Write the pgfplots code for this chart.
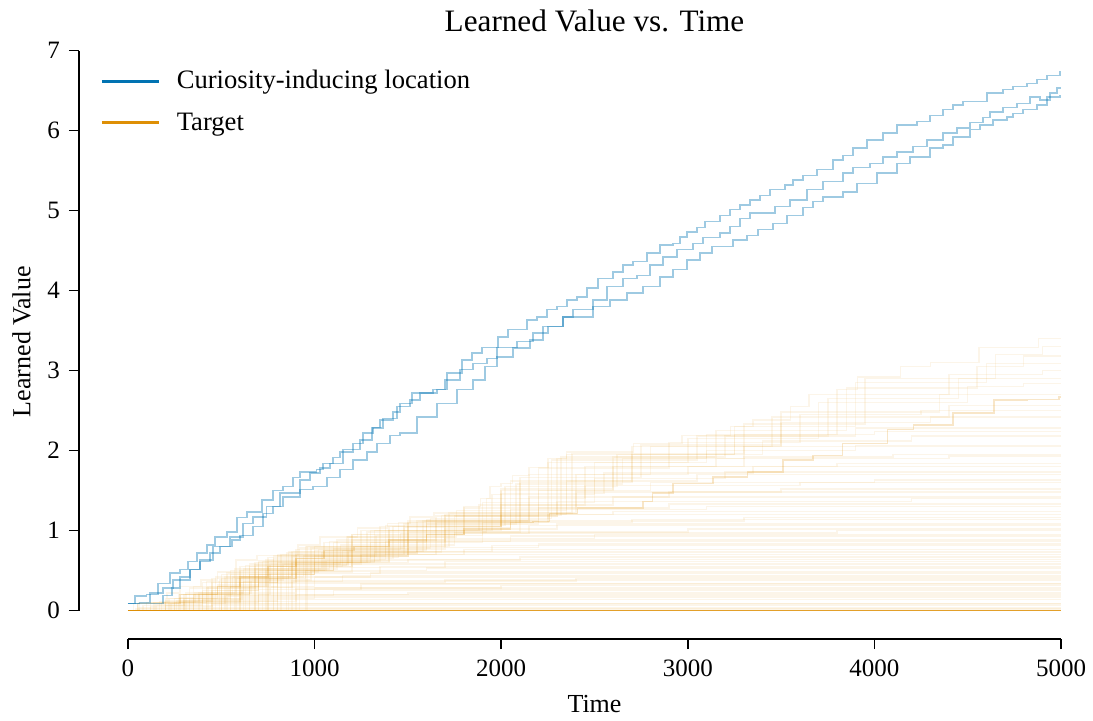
\documentclass[border=0pt]{standalone}
\usepackage{fontspec}
\setmainfont{Liberation Serif}
\usepackage{pgfplots}
\pgfplotsset{compat=1.18}
\definecolor{cblue}{HTML}{0173B2}
\definecolor{corange}{HTML}{DE8F05}
\pgfplotsset{
  oline/.style={const plot, no marks, draw=corange, opacity=0.085, line width=0.75pt, forget plot},
  bline/.style={const plot, no marks, draw=cblue, opacity=0.38, line width=0.65pt, forget plot},
}
\begin{document}
\begin{tikzpicture}
\begin{axis}[
  at={(0,0)}, anchor=origin,
  scale only axis, width=466.5pt, height=280pt,
  xmin=0, xmax=5000, ymin=0, ymax=7,
  clip=false,
  axis x line=bottom, axis y line=left,
  axis x line shift=14.25pt, axis y line shift=24.5pt,
  axis line style={-, line width=0.8pt, black},
  tick align=outside, major tick length=5pt,
  tick style={line width=0.8pt, black},
  xtick={0,1000,2000,3000,4000,5000}, ytick={0,1,2,3,4,5,6,7},
  scaled x ticks=false,
  /pgf/number format/1000 sep={},
  /pgf/number format/assume math mode=true,
  tick label style={font=\fontsize{12.5}{15}\selectfont},
  xticklabel style={yshift=-1.75pt},
  yticklabel style={xshift=-1pt},
  title={Learned Value vs. Time},
  title style={at={(axis description cs:0.5,1)}, anchor=base, yshift=3.75pt, font=\fontsize{15.6}{18}\selectfont},
  xlabel={Time},
  xlabel style={at={(axis description cs:0.5,-0.1813)}, anchor=base, font=\fontsize{13}{15}\selectfont},
  ylabel={Learned Value},
  ylabel style={at={(axis description cs:-0.1045,0.48)}, anchor=base, font=\fontsize{13}{15}\selectfont},
  legend style={draw=none, fill=none, at={(axis description cs:-0.030,0.9706)}, anchor=north west,
    font=\fontsize{13.3}{16}\selectfont, row sep=7.4pt, inner sep=0pt, nodes={inner sep=1.5pt}},
  legend cell align=left,
  legend image code/.code={\draw[#1] (0pt,0pt) -- (28.5pt,0pt); \path[draw=none] (0pt,0pt) -- (36pt,0pt);},
]
% ---------------- Target runs (faint) ----------------
\addplot[oline] coordinates {(0,0)(60,0.03)(5000,0.03)};
\addplot[oline] coordinates {(0,0)(200,0.06)(5000,0.06)};
\addplot[oline] coordinates {(0,0)(30,0.09)(260,0.09)(5000,0.09)};
\addplot[oline] coordinates {(0,0)(150,0.07)(400,0.14)(5000,0.14)};
\addplot[oline] coordinates {(0,0)(100,0.1)(350,0.18)(5000,0.18)};
\addplot[oline] coordinates {(0,0)(350,0.1)(700,0.2)(1500,0.22)(5000,0.22)};
\addplot[oline] coordinates {(0,0)(250,0.1)(600,0.22)(900,0.27)(5000,0.27)};
\addplot[oline] coordinates {(0,0)(500,0.15)(1000,0.28)(2000,0.31)(5000,0.31)};
\addplot[oline] coordinates {(0,0)(200,0.12)(450,0.25)(700,0.34)(5000,0.34)};
\addplot[oline] coordinates {(0,0)(260,0.12)(800,0.35)(1700,0.38)(5000,0.38)};
\addplot[oline] coordinates {(0,0)(120,0.1)(400,0.2)(650,0.3)(1000,0.42)(5000,0.42)};
\addplot[oline] coordinates {(0,0)(300,0.15)(550,0.3)(800,0.42)(1300,0.47)(5000,0.47)};
\addplot[oline] coordinates {(0,0)(180,0.1)(420,0.28)(700,0.4)(950,0.5)(1600,0.53)(5000,0.53)};
\addplot[oline] coordinates {(0,0)(350,0.2)(600,0.35)(900,0.48)(1200,0.58)(5000,0.58)};
\addplot[oline] coordinates {(0,0)(250,0.15)(500,0.35)(800,0.5)(1100,0.6)(1500,0.64)(5000,0.64)};
\addplot[oline] coordinates {(0,0)(400,0.25)(700,0.45)(1000,0.6)(1400,0.7)(5000,0.7)};
\addplot[oline] coordinates {(0,0)(200,0.15)(600,0.4)(900,0.6)(1250,0.7)(1800,0.76)(5000,0.76)};
\addplot[oline] coordinates {(0,0)(300,0.2)(650,0.45)(1000,0.68)(1500,0.79)(2200,0.83)(5000,0.83)};
\addplot[oline] coordinates {(0,0)(450,0.35)(800,0.55)(1150,0.75)(1600,0.88)(5000,0.88)};
\addplot[oline] coordinates {(0,0)(350,0.3)(700,0.5)(1100,0.77)(1700,0.9)(2500,0.95)(5000,0.95)};
\addplot[oline] coordinates {(0,0)(500,0.4)(900,0.65)(1300,0.85)(1900,0.98)(3000,1.02)(5000,1.02)};
\addplot[oline] coordinates {(0,0)(400,0.35)(800,0.6)(1200,0.88)(1700,1.02)(2300,1.08)(5000,1.08)};
\addplot[oline] coordinates {(0,0)(550,0.45)(1000,0.75)(1500,0.98)(2100,1.12)(3300,1.16)(5000,1.16)};
\addplot[oline] coordinates {(0,0)(450,0.4)(900,0.7)(1400,1.0)(2000,1.2)(2600,1.24)(5000,1.24)};
\addplot[oline] coordinates {(0,0)(600,0.5)(1100,0.85)(1600,1.08)(2200,1.28)(2900,1.33)(5000,1.33)};
\addplot[oline] coordinates {(0,0)(500,0.45)(1000,0.8)(1500,1.05)(2000,1.32)(2600,1.42)(5000,1.42)};
\addplot[oline] coordinates {(0,0)(650,0.55)(1200,0.95)(1800,1.22)(2400,1.48)(3500,1.52)(5000,1.52)};
\addplot[oline] coordinates {(0,0)(550,0.5)(1050,0.85)(1700,1.18)(2200,1.5)(2800,1.6)(4000,1.63)(5000,1.63)};
\addplot[oline] coordinates {(0,0)(700,0.6)(1300,1.0)(1900,1.35)(2500,1.65)(3200,1.73)(5000,1.73)};
\addplot[oline] coordinates {(0,0)(600,0.55)(1200,0.95)(1800,1.28)(2400,1.7)(3000,1.8)(3800,1.84)(5000,1.84)};
\addplot[oline] coordinates {(0,0)(750,0.62)(1400,1.05)(2000,1.5)(2600,1.8)(3300,1.92)(4100,1.95)(5000,1.95)};
\addplot[oline] coordinates {(0,0)(650,0.58)(1250,1.0)(1950,1.45)(2500,1.85)(3100,2.0)(3900,2.06)(5000,2.06)};
\addplot[oline] coordinates {(0,0)(800,0.68)(1500,1.1)(2100,1.6)(2700,1.95)(3400,2.12)(4200,2.18)(5000,2.18)};
\addplot[oline] coordinates {(0,0)(700,0.62)(1350,1.05)(2000,1.52)(2600,1.92)(3200,2.18)(3900,2.28)(5000,2.28)};
\addplot[oline] coordinates {(0,0)(850,0.72)(1550,1.12)(2150,1.7)(2800,2.05)(3500,2.35)(4300,2.42)(5000,2.42)};
\addplot[oline] coordinates {(0,0)(750,0.66)(1450,1.1)(2050,1.62)(2700,2.05)(3450,2.42)(4400,2.56)(5000,2.56)};
\addplot[oline] coordinates {(0,0)(900,0.76)(1600,1.14)(2250,1.85)(3000,2.15)(3700,2.6)(4500,2.8)(4800,2.84)(5000,2.84)};
\addplot[oline] coordinates {(0,0)(800,0.7)(1650,1.18)(2300,1.9)(3100,2.2)(3800,2.7)(4400,2.95)(4900,3.0)(5000,3.0)};
\addplot[oline] coordinates {(0,0)(950,0.8)(1700,1.2)(2350,1.95)(3250,2.3)(3900,2.85)(4600,3.09)(5000,3.09)};
\addplot[oline] coordinates {(0,0)(40,0.02)(5000,0.02)};
\addplot[oline] coordinates {(0,0)(120,0.05)(450,0.08)(5000,0.08)};
\addplot[oline] coordinates {(0,0)(80,0.06)(300,0.12)(600,0.16)(5000,0.16)};
\addplot[oline] coordinates {(0,0)(420,0.11)(900,0.2)(5000,0.2)};
\addplot[oline] coordinates {(0,0)(230,0.09)(520,0.19)(1100,0.25)(5000,0.25)};
\addplot[oline] coordinates {(0,0)(170,0.11)(380,0.2)(760,0.29)(5000,0.29)};
\addplot[oline] coordinates {(0,0)(330,0.14)(610,0.26)(1250,0.33)(5000,0.33)};
\addplot[oline] coordinates {(0,0)(280,0.16)(540,0.29)(880,0.37)(2400,0.4)(5000,0.4)};
\addplot[oline] coordinates {(0,0)(140,0.1)(360,0.22)(620,0.36)(1150,0.44)(5000,0.44)};
\addplot[oline] coordinates {(0,0)(380,0.22)(660,0.38)(980,0.49)(5000,0.49)};
\addplot[oline] coordinates {(0,0)(220,0.15)(480,0.32)(760,0.46)(1350,0.55)(5000,0.55)};
\addplot[oline] coordinates {(0,0)(310,0.22)(580,0.4)(860,0.54)(1700,0.61)(5000,0.61)};
\addplot[oline] coordinates {(0,0)(430,0.3)(740,0.5)(1060,0.63)(2100,0.67)(5000,0.67)};
\addplot[oline] coordinates {(0,0)(270,0.2)(560,0.42)(880,0.6)(1320,0.73)(5000,0.73)};
\addplot[oline] coordinates {(0,0)(490,0.38)(830,0.58)(1180,0.74)(1950,0.81)(5000,0.81)};
\addplot[oline] coordinates {(0,0)(330,0.28)(680,0.52)(1040,0.72)(1550,0.86)(5000,0.86)};
\addplot[oline] coordinates {(0,0)(520,0.42)(940,0.68)(1380,0.86)(2050,0.93)(5000,0.93)};
\addplot[oline] coordinates {(0,0)(420,0.36)(760,0.58)(1140,0.82)(1750,0.97)(3800,1.0)(5000,1.0)};
\addplot[oline] coordinates {(0,0)(580,0.48)(1020,0.76)(1460,0.96)(2150,1.06)(5000,1.06)};
\addplot[oline] coordinates {(0,0)(470,0.42)(880,0.68)(1330,0.94)(1900,1.1)(2700,1.14)(5000,1.14)};
\addplot[oline] coordinates {(0,0)(620,0.52)(1120,0.88)(1650,1.1)(2250,1.2)(5000,1.2)};
\addplot[oline] coordinates {(0,0)(530,0.47)(980,0.78)(1480,1.04)(2050,1.26)(3100,1.3)(5000,1.3)};
\addplot[oline] coordinates {(0,0)(680,0.57)(1180,0.92)(1750,1.18)(2300,1.36)(4200,1.4)(5000,1.4)};
\addplot[oline] coordinates {(0,0)(570,0.52)(1080,0.86)(1600,1.12)(2150,1.42)(2900,1.48)(5000,1.48)};
\addplot[oline] coordinates {(0,0)(720,0.61)(1320,1.0)(1880,1.32)(2450,1.56)(3600,1.6)(5000,1.6)};
\addplot[oline] coordinates {(0,0)(630,0.56)(1170,0.92)(1760,1.25)(2350,1.62)(3050,1.7)(5000,1.7)};
\addplot[oline] coordinates {(0,0)(780,0.65)(1420,1.05)(2000,1.46)(2550,1.72)(3350,1.8)(5000,1.8)};
\addplot[oline] coordinates {(0,0)(680,0.6)(1280,0.98)(1920,1.4)(2450,1.8)(3150,1.9)(4400,1.93)(5000,1.93)};
\addplot[oline] coordinates {(0,0)(820,0.7)(1480,1.08)(2080,1.58)(2650,1.9)(3300,2.05)(5000,2.05)};
\addplot[oline] coordinates {(0,0)(740,0.64)(1380,1.06)(2020,1.55)(2620,1.95)(3250,2.2)(4000,2.24)(5000,2.24)};
\addplot[oline] coordinates {(0,0)(880,0.74)(1580,1.12)(2200,1.78)(2900,2.1)(3600,2.45)(4250,2.5)(5000,2.5)};
\addplot[oline] coordinates {(0,0)(780,0.68)(1500,1.12)(2100,1.66)(2750,2.07)(3500,2.48)(4350,2.7)(5000,2.7)};
\addplot[oline] coordinates {(0,0)(920,0.78)(1620,1.15)(2270,1.88)(3050,2.18)(3750,2.65)(4450,2.9)(5000,2.9)};
\addplot[oline] coordinates {(0,0)(860,0.73)(1680,1.19)(2320,1.92)(3150,2.25)(3850,2.78)(4550,3.05)(4800,3.18)(5000,3.18)};
\addplot[oline] coordinates {(0,0)(960,0.8)(1720,1.22)(2380,1.96)(3300,2.33)(3950,2.9)(4650,3.2)(4900,3.3)(5000,3.3)};
\addplot[oline] coordinates {(0,0)(60,0.1)(210,0.22)(280,0.3)(390,0.38)(480,0.48)(580,0.63)(690,0.69)(910,0.82)(1030,0.92)(1230,1.03)(1390,1.09)(1510,1.17)(1640,1.22)(1800,1.3)(1890,1.4)(1940,1.55)(2000,1.59)(2060,1.69)(2150,1.79)(2250,1.9)(2350,1.98)(2710,2.09)(2970,2.19)(3230,2.3)(3350,2.38)(3550,2.55)(3650,2.7)(3800,2.76)(3910,2.92)(4140,3.05)(4300,3.1)(4560,3.29)(4880,3.4)(5000,3.4)};
\addplot[oline, opacity=0.22] coordinates {(0,0)(50,0.09)(200,0.09)(280,0.2)(480,0.3)(600,0.42)(750,0.55)(900,0.65)(1050,0.75)(1210,0.8)(1400,0.88)(1600,0.95)(1800,1.02)(2050,1.1)(2170,1.11)(2260,1.21)(2410,1.28)(2760,1.36)(2810,1.47)(2920,1.59)(3135,1.67)(3320,1.73)(3510,1.88)(3670,1.94)(3830,2.09)(4070,2.26)(4210,2.32)(4420,2.47)(4640,2.63)(4820,2.64)(4990,2.67)(5000,2.67)};
\addplot[corange, opacity=0.85, line width=0.8pt, no marks, forget plot] coordinates {(0,0)(5000,0)};
% ---------------- Curiosity-inducing location runs ----------------
\addplot[bline] coordinates {(0,0.09)(38,0.18)(100,0.2)(161,0.34)(225,0.47)(279,0.51)(322,0.61)(370,0.72)(423,0.82)(466,0.92)(530,0.98)(584,1.16)(637,1.23)(718,1.38)(777,1.5)(830,1.55)(884,1.66)(922,1.73)(1012,1.76)(1045,1.84)(1098,1.91)(1136,1.98)(1206,2.09)(1259,2.22)(1313,2.29)(1350,2.38)(1420,2.48)(1458,2.59)(1522,2.72)(1635,2.76)(1709,2.97)(1790,3.13)(1844,3.22)(1897,3.29)(1983,3.42)(2036,3.51)(2138,3.63)(2192,3.67)(2245,3.76)(2299,3.8)(2353,3.88)(2406,3.92)(2460,4.03)(2519,4.15)(2599,4.23)(2653,4.32)(2706,4.36)(2781,4.47)(2851,4.57)(2921,4.59)(2958,4.67)(2996,4.73)(3049,4.79)(3092,4.86)(3173,4.94)(3226,5.01)(3280,5.07)(3333,5.13)(3387,5.19)(3440,5.26)(3521,5.32)(3564,5.38)(3617,5.44)(3692,5.51)(3778,5.63)(3832,5.69)(3885,5.78)(3960,5.88)(4046,5.97)(4121,6.07)(4228,6.11)(4298,6.19)(4368,6.26)(4421,6.32)(4475,6.36)(4603,6.47)(4689,6.51)(4743,6.55)(4818,6.59)(4871,6.64)(4925,6.69)(4995,6.73)(5000,6.73)};
\addplot[bline] coordinates {(0,0.09)(60,0.1)(118,0.22)(188,0.28)(241,0.38)(332,0.51)(386,0.63)(455,0.8)(547,0.92)(616,1.09)(670,1.17)(744,1.3)(814,1.47)(922,1.63)(975,1.72)(1029,1.78)(1082,1.84)(1152,2.01)(1243,2.13)(1307,2.28)(1367,2.4)(1442,2.55)(1511,2.63)(1565,2.72)(1656,2.76)(1699,2.88)(1779,3.01)(1849,3.09)(1924,3.15)(1978,3.29)(2085,3.36)(2170,3.47)(2251,3.55)(2331,3.67)(2385,3.76)(2492,3.88)(2567,4.05)(2653,4.15)(2728,4.19)(2797,4.32)(2867,4.42)(2942,4.51)(3028,4.59)(3081,4.66)(3173,4.72)(3226,4.8)(3280,4.9)(3333,4.97)(3467,5.05)(3548,5.13)(3639,5.26)(3725,5.36)(3832,5.47)(3885,5.54)(3976,5.59)(4046,5.67)(4121,5.73)(4207,5.8)(4282,5.88)(4368,5.97)(4443,6.03)(4512,6.1)(4582,6.16)(4619,6.23)(4689,6.29)(4764,6.34)(4834,6.42)(4887,6.38)(4941,6.47)(4979,6.53)(5000,6.53)};
\addplot[bline] coordinates {(0,0.09)(188,0.19)(236,0.28)(279,0.42)(332,0.51)(386,0.61)(439,0.72)(493,0.8)(557,0.88)(600,0.94)(670,1.05)(723,1.21)(777,1.3)(830,1.42)(922,1.51)(991,1.55)(1066,1.66)(1136,1.76)(1206,1.88)(1281,1.98)(1334,2.09)(1404,2.19)(1458,2.22)(1549,2.42)(1656,2.59)(1763,2.76)(1849,2.88)(1913,3.05)(1978,3.17)(2063,3.28)(2154,3.38)(2224,3.55)(2331,3.67)(2492,3.8)(2583,3.88)(2674,3.97)(2760,4.05)(2851,4.17)(2921,4.26)(2996,4.38)(3065,4.47)(3130,4.55)(3242,4.63)(3317,4.69)(3376,4.76)(3456,4.84)(3531,4.94)(3617,5.04)(3671,5.11)(3725,5.17)(3832,5.23)(3907,5.34)(4014,5.47)(4121,5.59)(4191,5.67)(4298,5.78)(4368,5.82)(4421,5.92)(4512,6.01)(4566,6.07)(4636,6.13)(4711,6.17)(4743,6.21)(4796,6.26)(4871,6.32)(4925,6.42)(4995,6.44)(5000,6.44)};
% ---------------- Legend ----------------
\addlegendimage{cblue, line width=1.4pt}
\addlegendentry{Curiosity-inducing location}
\addlegendimage{corange, line width=1.4pt}
\addlegendentry{Target}
\end{axis}
\pgfresetboundingbox
\useasboundingbox (-64pt,-54.75pt) rectangle (482.5pt,305.25pt);
\end{tikzpicture}
\end{document}
